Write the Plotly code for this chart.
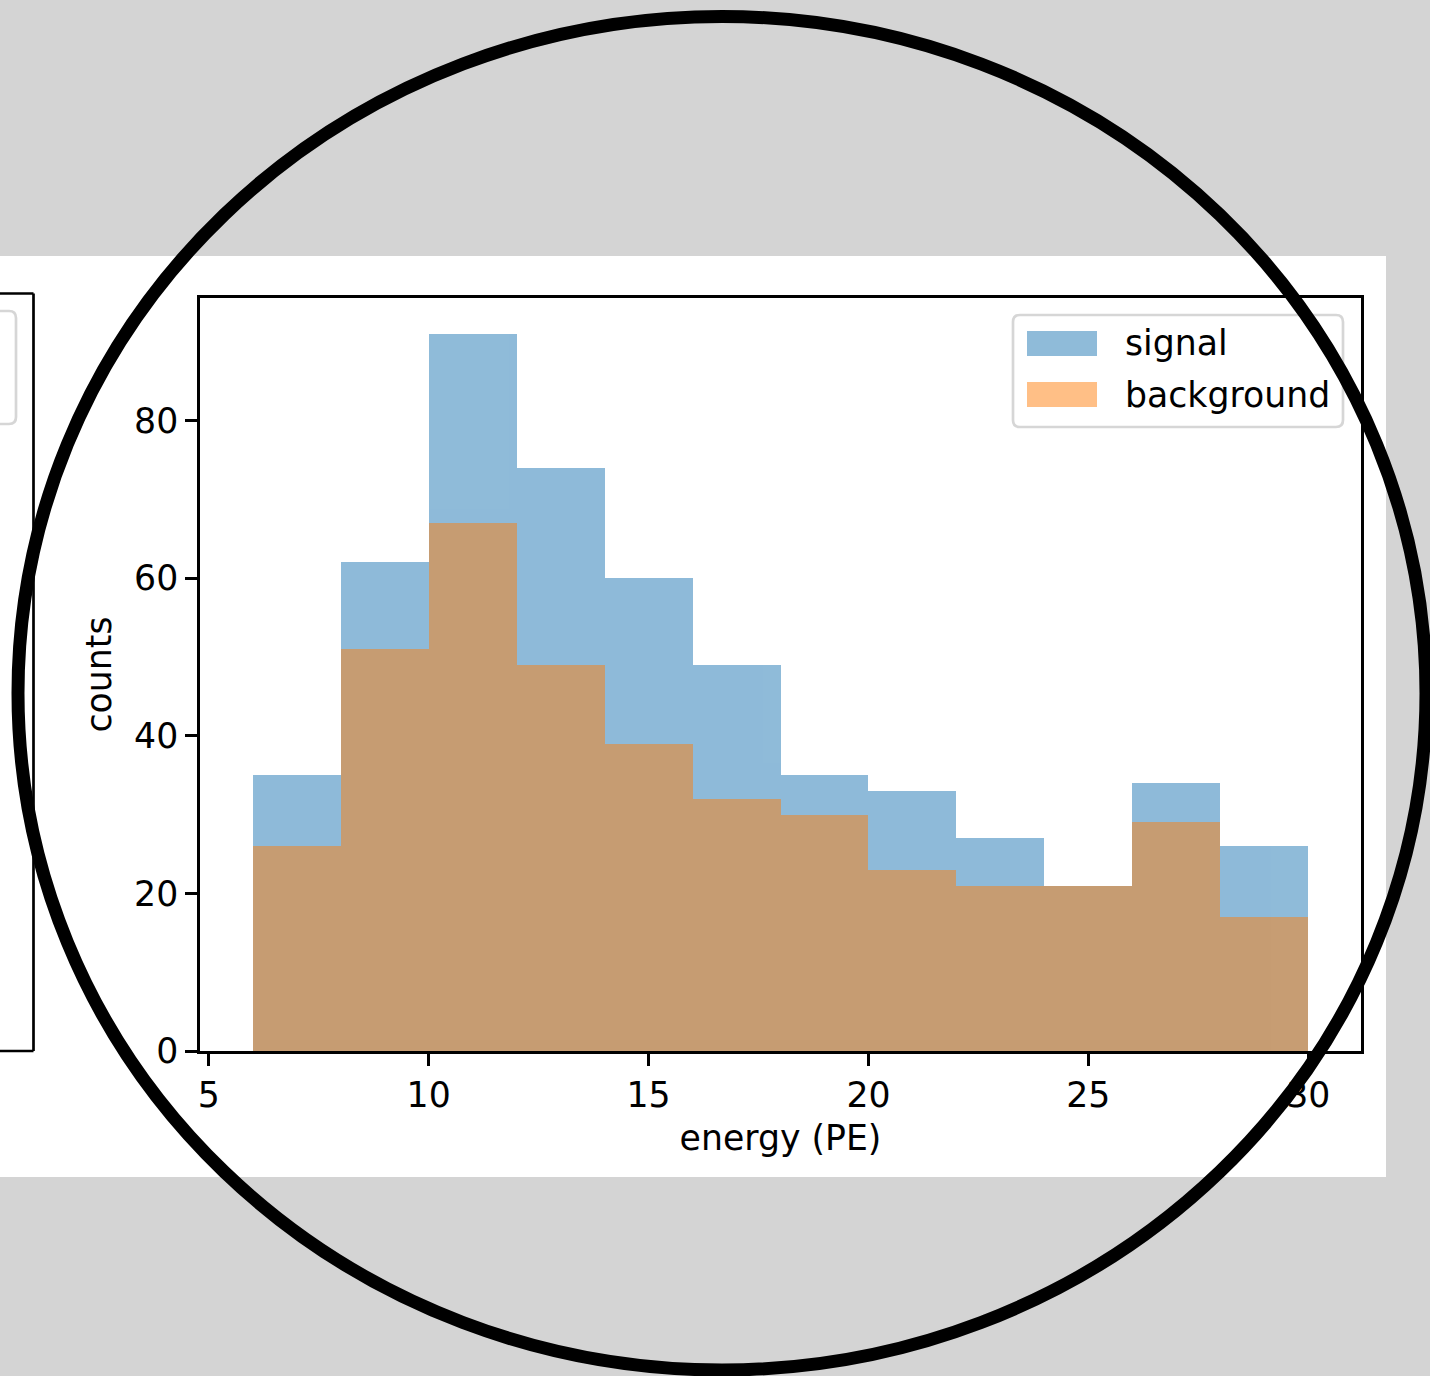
import plotly.graph_objects as go

# ---- data ----
bin_edges = [6, 8, 10, 12, 14, 16, 18, 20, 22, 24, 26, 28, 30]
signal_counts = [35, 62, 91, 74, 60, 49, 35, 33, 27, 21, 34, 26]
background_counts = [26, 51, 67, 49, 39, 32, 30, 23, 21, 21, 29, 17]
x_ticks = [5, 10, 15, 20, 25, 30]
y_ticks = [0, 20, 40, 60, 80]
series_names = ["signal", "background"]

bin_centers = [(a + b) / 2 for a, b in zip(bin_edges[:-1], bin_edges[1:])]
bin_widths = [b - a for a, b in zip(bin_edges[:-1], bin_edges[1:])]

W, H = 1430, 1376
L, R, T, B = 200, 1361, 298, 1051
PW, PH = R - L, B - T
FONT = "DejaVu Sans"
FS = 34.7


def px(x):
    return (x - L) / PW


def py(y):
    return (B - y) / PH


def rounded_rect(x0, y0, x1, y1, r):
    def P(x, y):
        return f"{px(x):.6f},{py(y):.6f}"
    return (f"M {P(x0 + r, y0)} L {P(x1 - r, y0)} Q {P(x1, y0)} {P(x1, y0 + r)} "
            f"L {P(x1, y1 - r)} Q {P(x1, y1)} {P(x1 - r, y1)} "
            f"L {P(x0 + r, y1)} Q {P(x0, y1)} {P(x0, y1 - r)} "
            f"L {P(x0, y0 + r)} Q {P(x0, y0)} {P(x0 + r, y0)} Z")


fig = go.Figure()
fig.add_trace(go.Bar(x=bin_centers, y=signal_counts, width=bin_widths,
                     marker=dict(color="#1f77b4", line=dict(width=0)),
                     opacity=0.5, name=series_names[0]))
fig.add_trace(go.Bar(x=bin_centers, y=background_counts, width=bin_widths,
                     marker=dict(color="#ff7f0e", line=dict(width=0)),
                     opacity=0.5, name=series_names[1]))

lo, hi = bin_edges[0], bin_edges[-1]
pad = 0.05 * (hi - lo)
ymax = max(signal_counts + background_counts) * 1.05

shapes = []
# white figure background
shapes.append(dict(type="rect", xref="paper", yref="paper",
                   x0=px(-20), x1=px(1386), y0=py(1177), y1=py(256),
                   fillcolor="white", line=dict(width=0), layer="below"))
# fragment of neighbouring panel
for (xa, ya, xb, yb) in [(-10, 293.5, 33.5, 293.5), (33.5, 293.5, 33.5, 1051), (-10, 1051, 33.5, 1051)]:
    shapes.append(dict(type="line", xref="paper", yref="paper",
                       x0=px(xa), y0=py(ya), x1=px(xb), y1=py(yb),
                       line=dict(color="black", width=2.7), layer="above"))
shapes.append(dict(type="path", xref="paper", yref="paper",
                   path=rounded_rect(-80, 311, 16, 424, 7),
                   fillcolor="white", line=dict(color="#d6d6d6", width=2.7), layer="above"))
# legend
shapes.append(dict(type="path", xref="paper", yref="paper",
                   path=rounded_rect(1013, 315, 1343, 427, 7),
                   fillcolor="rgba(255,255,255,0.8)", line=dict(color="#d6d6d6", width=2.7),
                   layer="above"))
shapes.append(dict(type="rect", xref="paper", yref="paper",
                   x0=px(1027), x1=px(1097), y0=py(356), y1=py(331),
                   fillcolor="#1f77b4", opacity=0.5, line=dict(width=0), layer="above"))
shapes.append(dict(type="rect", xref="paper", yref="paper",
                   x0=px(1027), x1=px(1097), y0=py(407), y1=py(382),
                   fillcolor="#ff7f0e", opacity=0.5, line=dict(width=0), layer="above"))
# big ring
shapes.append(dict(type="circle", xref="paper", yref="paper",
                   x0=px(18), x1=px(1426), y0=py(1370), y1=py(16.5),
                   line=dict(color="black", width=13), fillcolor="rgba(0,0,0,0)",
                   layer="above"))

annotations = [
    dict(xref="paper", yref="paper", x=px(1123), y=py(343.5), text=series_names[0],
         showarrow=False, xanchor="left", yanchor="middle",
         font=dict(family=FONT, size=FS, color="black")),
    dict(xref="paper", yref="paper", x=px(1123), y=py(394.5), text=series_names[1],
         showarrow=False, xanchor="left", yanchor="middle",
         font=dict(family=FONT, size=FS, color="black")),
]

fig.update_layout(
    width=W, height=H,
    margin=dict(l=L, r=W - R, t=T, b=H - B, pad=0),
    paper_bgcolor="#d4d4d4",
    plot_bgcolor="white",
    barmode="overlay",
    bargap=0,
    showlegend=False,
    font=dict(family=FONT, size=FS, color="black"),
    shapes=shapes,
    annotations=annotations,
    xaxis=dict(range=[lo - pad, hi + pad], tickvals=x_ticks, ticktext=[str(v) for v in x_ticks],
               ticks="outside", ticklen=12, tickwidth=2.7, tickcolor="black",
               showline=True, linecolor="black", linewidth=2.7, mirror=True,
               showgrid=False, zeroline=False,
               tickfont=dict(family=FONT, size=FS, color="black"),
               title=dict(text="energy (PE)", font=dict(family=FONT, size=FS, color="black"), standoff=12)),
    yaxis=dict(range=[0, ymax], tickvals=y_ticks, ticktext=[str(v) for v in y_ticks],
               ticks="outside", ticklen=12, tickwidth=2.7, tickcolor="black",
               showline=True, linecolor="black", linewidth=2.7, mirror=True,
               showgrid=False, zeroline=False,
               tickfont=dict(family=FONT, size=FS, color="black"),
               title=dict(text="counts", font=dict(family=FONT, size=FS, color="black"), standoff=12)),
)

fig.write_html(
    "out.html",
    config={"displayModeBar": False},
    post_script="document.documentElement.style.margin='0';document.body.style.margin='0';"
                "document.body.style.padding='0';document.body.style.overflow='hidden';",
)
